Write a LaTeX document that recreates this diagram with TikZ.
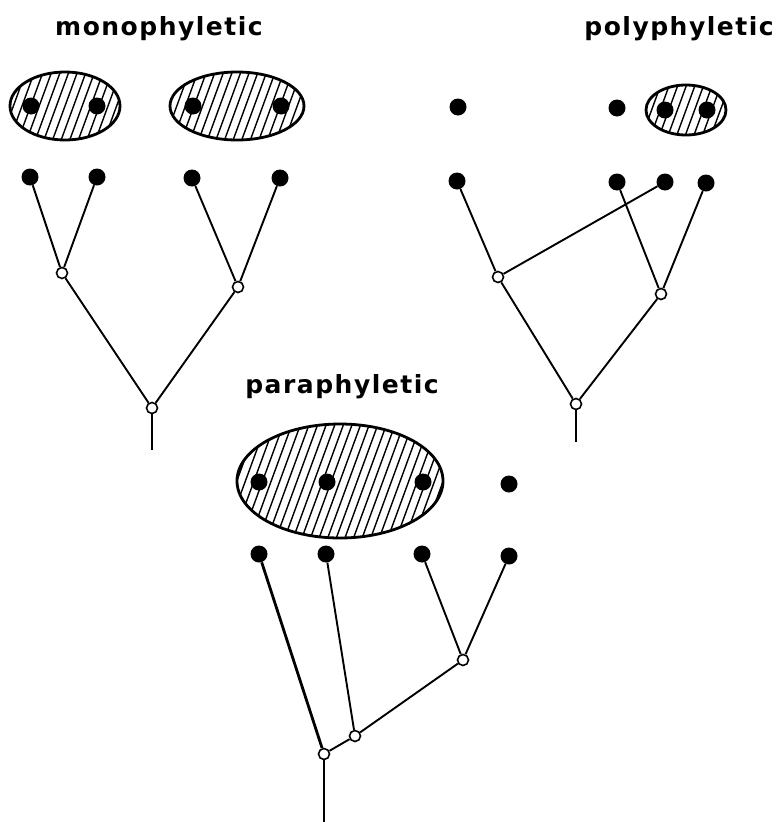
\documentclass[tikz,border=0pt]{standalone}
\usepackage{fontspec}
\setmainfont{DejaVu Sans}
\newfontfamily\ttlfont[LetterSpace=6,BoldFont={DejaVu Sans Bold}]{DejaVu Sans}
\usetikzlibrary{shapes.geometric}
\begin{document}
\begin{tikzpicture}[x=1pt,y=-1pt,
  leaf/.style={circle,fill=black,inner sep=0pt,minimum size=17pt},
  anc/.style={circle,draw,fill=white,line width=1.6pt,inner sep=0pt,minimum size=11pt},
  edge/.style={line width=1.9pt},
  grp/.style={ellipse,draw,line width=2.8pt,inner sep=0pt,
    path picture={
      \foreach \i in {-30,...,30}
        \draw[line width=1.4pt]
          ([xshift=\i*8.6pt-22pt,yshift=-60pt]path picture bounding box.center) --
          ([xshift=\i*8.6pt+22pt,yshift=60pt]path picture bounding box.center);
    }},
  ttl/.style={font=\ttlfont\bfseries\fontsize{25}{30}\selectfont,anchor=base,inner sep=0pt}]
\useasboundingbox (0,0) rectangle (782,822);

% ---------- monophyletic ----------
\node[ttl] (t1) at (159,35) {monophyletic};
\node[grp,minimum width=110pt,minimum height=68pt] (g1) at (65,106) {};
\node[grp,minimum width=134pt,minimum height=68pt] (g2) at (237,106) {};
\node[leaf] (g1a) at (31,106) {};
\node[leaf] (g1b) at (97,106) {};
\node[leaf] (g2a) at (193,106) {};
\node[leaf] (g2b) at (281,106) {};

\node[leaf] (m1) at (30,177) {};
\node[leaf] (m2) at (97,177) {};
\node[leaf] (m3) at (192,178) {};
\node[leaf] (m4) at (280,178) {};
\node[anc] (ma) at (62,273) {};
\node[anc] (mb) at (238,287) {};
\node[anc] (mr) at (152,408) {};
\coordinate (mt) at (152,450);
\draw[edge] (m1) -- (ma);
\draw[edge] (m2) -- (ma);
\draw[edge] (m3) -- (mb);
\draw[edge] (m4) -- (mb);
\draw[edge] (ma) -- (mr);
\draw[edge] (mb) -- (mr);
\draw[edge] (mr) -- (mt);

% ---------- polyphyletic ----------
\node[ttl] (t2) at (679,35) {polyphyletic};
\node[leaf] (pt1) at (458,107) {};
\node[leaf] (pt2) at (617,108) {};
\node[grp,minimum width=80pt,minimum height=50pt] (g3) at (686,110) {};
\node[leaf] (g3a) at (665,110) {};
\node[leaf] (g3b) at (707,110) {};

\node[leaf] (p1) at (457,181) {};
\node[leaf] (p2) at (617,182) {};
\node[leaf] (p3) at (665,182) {};
\node[leaf] (p4) at (706,183) {};
\node[anc] (pa) at (498,277) {};
\node[anc] (pb) at (661,294) {};
\node[anc] (pr) at (576,404) {};
\coordinate (pt) at (576,442);
\draw[edge] (p1) -- (pa);
\draw[edge] (p3) -- (pa);
\draw[edge] (p2) -- (pb);
\draw[edge] (p4) -- (pb);
\draw[edge] (pa) -- (pr);
\draw[edge] (pb) -- (pr);
\draw[edge] (pr) -- (pt);

% ---------- paraphyletic ----------
\node[ttl] (t3) at (342,393) {paraphyletic};
\node[grp,minimum width=206pt,minimum height=114pt] (g4) at (340,481) {};
\node[leaf] (g4a) at (259,482) {};
\node[leaf] (g4b) at (327,482) {};
\node[leaf] (g4c) at (423,482) {};
\node[leaf] (ro) at (509,484) {};

\node[leaf] (q1) at (259,554) {};
\node[leaf] (q2) at (326,554) {};
\node[leaf] (q3) at (422,554) {};
\node[leaf] (q4) at (509,556) {};
\node[anc] (qa) at (463,660) {};
\node[anc] (qb) at (355,736) {};
\node[anc] (qr) at (324,754) {};
\coordinate (qt) at (324,822);
\draw[edge] (q3) -- (qa);
\draw[edge] (q4) -- (qa);
\draw[edge] (q2) -- (qb);
\draw[edge] (qa) -- (qb);
\draw[edge] (qb) -- (qr);
\draw[edge,line width=2.8pt] (q1) -- (qr);
\draw[edge] (qr) -- (qt);
\end{tikzpicture}
\end{document}
